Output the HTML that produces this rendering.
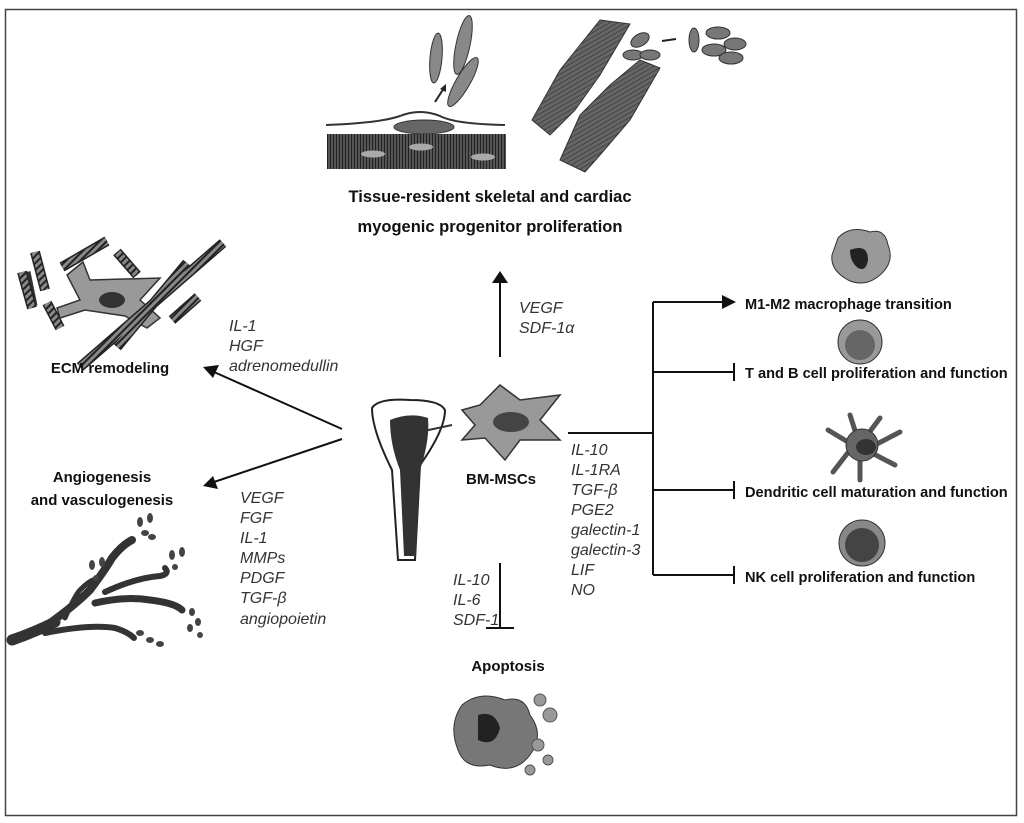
<!DOCTYPE html>
<html><head><meta charset="utf-8"><style>
html,body{margin:0;padding:0;background:#fff}
svg{display:block}
text{font-family:"Liberation Sans",sans-serif}
.b{font-weight:bold;font-size:15px;fill:#111}
.r{font-weight:bold;font-size:14.6px;fill:#111}
.t{font-weight:bold;font-size:16.5px;fill:#111}
.i{font-style:italic;font-size:16px;fill:#333}
</style></head><body>
<svg width="1024" height="823" viewBox="0 0 1024 823">
<defs>
<pattern id="h" width="5" height="5" patternUnits="userSpaceOnUse" patternTransform="rotate(45)"><rect width="5" height="5" fill="#888"/><rect width="2" height="5" fill="#222"/></pattern>
<pattern id="v" width="3" height="3" patternUnits="userSpaceOnUse"><rect width="3" height="3" fill="#555"/><rect width="1" height="3" fill="#222"/></pattern>
<pattern id="c" width="4" height="4" patternUnits="userSpaceOnUse" patternTransform="rotate(-30)"><rect width="4" height="4" fill="#666"/><rect width="4" height="1" fill="#444"/></pattern>
</defs>
<rect x="5.5" y="9.5" width="1011" height="806" fill="none" stroke="#444" stroke-width="1.5"/>

<!-- top illustration -->
<ellipse cx="436" cy="58" rx="6" ry="25" fill="#888" stroke="#333" transform="rotate(5 436 58)"/>
<ellipse cx="463" cy="45" rx="7" ry="30" fill="#888" stroke="#333" transform="rotate(12 463 45)"/>
<ellipse cx="463" cy="82" rx="7" ry="28" fill="#888" stroke="#333" transform="rotate(30 463 82)"/>
<line x1="435" y1="102" x2="444" y2="88" stroke="#222" stroke-width="2"/>
<polygon points="446,84 446,92 440,89" fill="#222"/>
<path d="M326 125 Q380 123 400 116 Q420 108 440 116 Q455 124 505 125" fill="none" stroke="#333" stroke-width="2"/>
<ellipse cx="424" cy="127" rx="30" ry="7" fill="#666" stroke="#333"/>
<rect x="327" y="134" width="179" height="35" fill="url(#v)"/>
<ellipse cx="373" cy="154" rx="12" ry="3.5" fill="#aaa"/><ellipse cx="421" cy="147" rx="12" ry="3.5" fill="#aaa"/><ellipse cx="483" cy="157" rx="12" ry="3.5" fill="#aaa"/>
<polygon points="600,20 630,24 600,75 575,110 550,135 532,120 560,70" fill="url(#c)" stroke="#333"/>
<polygon points="640,60 660,68 630,120 600,155 585,172 560,160 580,115 610,85" fill="url(#c)" stroke="#333"/>
<g fill="#777" stroke="#333"><ellipse cx="640" cy="40" rx="10" ry="6" transform="rotate(-30 640 40)"/><ellipse cx="633" cy="55" rx="10" ry="5"/><ellipse cx="650" cy="55" rx="10" ry="5"/>
<ellipse cx="718" cy="33" rx="12" ry="6"/><ellipse cx="735" cy="44" rx="11" ry="6"/><ellipse cx="714" cy="50" rx="12" ry="6"/><ellipse cx="731" cy="58" rx="12" ry="6"/><ellipse cx="694" cy="40" rx="5" ry="12"/></g>
<line x1="662" y1="41" x2="676" y2="39" stroke="#222" stroke-width="2"/>
<text class="t" x="490" y="202" text-anchor="middle">Tissue-resident skeletal and cardiac</text>
<text class="t" x="490" y="232" text-anchor="middle">myogenic progenitor proliferation</text>

<!-- up arrow -->
<line x1="500" y1="357" x2="500" y2="282" stroke="#111" stroke-width="2"/>
<polygon points="492,283 508,283 500,271" fill="#111"/>
<text class="i" x="519" y="313">VEGF</text>
<text class="i" x="519" y="333">SDF-1α</text>

<!-- ECM -->
<g stroke="url(#h)" stroke-width="8">
<line x1="26" y1="272" x2="33" y2="306" stroke="#333" stroke-width="9"/>
</g>
<g fill="none" stroke-width="8" stroke-linecap="butt">
<g stroke="#222" stroke-width="10">
<line x1="62" y1="267" x2="107" y2="241"/><line x1="117" y1="252" x2="137" y2="275"/>
<line x1="22" y1="272" x2="32" y2="308"/><line x1="35" y1="252" x2="45" y2="290"/>
<line x1="47" y1="303" x2="60" y2="328"/><line x1="172" y1="320" x2="198" y2="297"/>
</g>
</g>
<g stroke="url(#h)" stroke-width="7" fill="none">
<line x1="62" y1="267" x2="107" y2="241"/><line x1="117" y1="252" x2="137" y2="275"/>
<line x1="22" y1="272" x2="32" y2="308"/><line x1="35" y1="252" x2="45" y2="290"/>
<line x1="47" y1="303" x2="60" y2="328"/><line x1="172" y1="320" x2="198" y2="297"/>
</g>
<path d="M67 275 L83 262 L90 280 L160 278 L140 300 L160 318 L147 328 L125 316 L85 310 L60 318 L57 308 L80 300 Z" fill="#999" stroke="#333" stroke-width="1.5"/>
<ellipse cx="112" cy="300" rx="13" ry="8" fill="#333"/>
<g stroke="#222" stroke-width="10"><line x1="80" y1="367" x2="223" y2="243"/><line x1="117" y1="347" x2="187" y2="263"/></g>
<g stroke="url(#h)" stroke-width="7"><line x1="80" y1="367" x2="223" y2="243"/><line x1="117" y1="347" x2="187" y2="263"/></g>
<text class="b" x="110" y="373" text-anchor="middle">ECM remodeling</text>
<text class="i" x="229" y="331">IL-1</text>
<text class="i" x="229" y="351">HGF</text>
<text class="i" x="229" y="371">adrenomedullin</text>

<!-- left arrows -->
<line x1="342" y1="429" x2="214" y2="372" stroke="#111" stroke-width="2"/>
<polygon points="203,367 219,365 213,378" fill="#111"/>
<line x1="342" y1="439" x2="214" y2="482" stroke="#111" stroke-width="2"/>
<polygon points="203,486 213,476 218,489" fill="#111"/>

<text class="b" x="102" y="482" text-anchor="middle">Angiogenesis</text>
<text class="b" x="102" y="505" text-anchor="middle">and vasculogenesis</text>
<text class="i" x="240" y="503">VEGF</text><text class="i" x="240" y="523">FGF</text><text class="i" x="240" y="543">IL-1</text><text class="i" x="240" y="563">MMPs</text><text class="i" x="240" y="583">PDGF</text><text class="i" x="240" y="603">TGF-β</text><text class="i" x="240" y="624">angiopoietin</text>
<!-- tree -->
<g fill="none" stroke="#333" stroke-linecap="round">
<path d="M12 640 Q35 632 55 622" stroke-width="11"/>
<path d="M50 623 Q75 605 90 590 Q105 570 112 558 Q122 545 132 540" stroke-width="8"/>
<path d="M95 603 Q125 596 150 600 Q175 603 182 610" stroke-width="7"/>
<path d="M105 592 Q135 578 160 576 Q170 574 165 568" stroke-width="6"/>
<path d="M45 633 Q90 624 115 628 Q128 632 134 638" stroke-width="6"/>
<path d="M65 618 Q75 595 80 590 Q88 582 93 580" stroke-width="5"/>
</g>
<g fill="#444"><ellipse cx="140" cy="522" rx="3" ry="5"/><ellipse cx="150" cy="518" rx="3" ry="5"/><ellipse cx="145" cy="533" rx="4" ry="3"/><ellipse cx="152" cy="537" rx="4" ry="3"/>
<ellipse cx="92" cy="565" rx="3" ry="5"/><ellipse cx="102" cy="562" rx="3" ry="5"/><ellipse cx="96" cy="578" rx="3" ry="3"/>
<ellipse cx="172" cy="555" rx="3" ry="5"/><ellipse cx="182" cy="552" rx="3" ry="5"/><ellipse cx="175" cy="567" rx="3" ry="3"/>
<ellipse cx="192" cy="612" rx="3" ry="4"/><ellipse cx="198" cy="622" rx="3" ry="4"/><ellipse cx="190" cy="628" rx="3" ry="4"/><ellipse cx="200" cy="635" rx="3" ry="3"/>
<ellipse cx="140" cy="633" rx="4" ry="3"/><ellipse cx="150" cy="640" rx="4" ry="3"/><ellipse cx="160" cy="644" rx="4" ry="3"/></g>

<!-- bone + MSC -->
<path d="M372 408 Q378 398 410 400 Q440 400 445 410 Q445 430 420 465 L415 560 L398 560 L392 470 Q372 430 372 408 Z" fill="#fff" stroke="#222" stroke-width="2"/>
<path d="M390 420 Q410 412 428 418 Q430 440 420 470 L416 556 L404 556 L400 470 Q390 445 390 420 Z" fill="#333"/>
<line x1="410" y1="434" x2="452" y2="425" stroke="#333" stroke-width="2"/>
<path d="M462 410 L480 405 L500 385 L520 400 L560 395 L540 420 L560 440 L520 440 L505 460 L485 438 L462 440 L475 425 Z" fill="#999" stroke="#333" stroke-width="1.5"/>
<ellipse cx="511" cy="422" rx="18" ry="10" fill="#444"/>
<text class="b" x="466" y="484">BM-MSCs</text>

<!-- right branch -->
<g stroke="#111" stroke-width="2" fill="none">
<line x1="568" y1="433" x2="653" y2="433"/>
<line x1="653" y1="302" x2="653" y2="575"/>
<line x1="653" y1="302" x2="725" y2="302"/>
<line x1="653" y1="372" x2="734" y2="372"/><line x1="734" y1="363" x2="734" y2="381"/>
<line x1="653" y1="490" x2="734" y2="490"/><line x1="734" y1="481" x2="734" y2="499"/>
<line x1="653" y1="575" x2="734" y2="575"/><line x1="734" y1="566" x2="734" y2="584"/>
</g>
<polygon points="722,295 736,302 722,309" fill="#111"/>
<text class="i" x="571" y="455">IL-10</text><text class="i" x="571" y="475">IL-1RA</text><text class="i" x="571" y="495">TGF-β</text><text class="i" x="571" y="515">PGE2</text><text class="i" x="571" y="535">galectin-1</text><text class="i" x="571" y="555">galectin-3</text><text class="i" x="571" y="575">LIF</text><text class="i" x="571" y="595">NO</text>

<text class="r" x="745" y="309">M1-M2 macrophage transition</text>
<text class="r" x="745" y="378">T and B cell proliferation and function</text>
<text class="r" x="745" y="497">Dendritic cell  maturation and function</text>
<text class="r" x="745" y="582">NK cell  proliferation and function</text>

<!-- right cells -->
<path d="M838 238 Q850 225 870 232 Q885 228 888 245 Q895 262 880 275 Q865 288 848 280 Q830 270 832 255 Z" fill="#999" stroke="#333"/>
<path d="M850 250 Q868 243 868 260 Q866 272 858 268 Q850 262 850 250Z" fill="#222"/>
<circle cx="860" cy="342" r="22" fill="#999" stroke="#333"/><circle cx="860" cy="345" r="15" fill="#666"/>
<g stroke="#555" stroke-width="5" fill="none" stroke-linecap="round">
<path d="M858 440 L850 415"/><path d="M865 438 L880 418"/><path d="M875 445 L900 432"/><path d="M870 452 L895 465"/><path d="M860 455 L860 480"/><path d="M850 450 L833 472"/><path d="M848 442 L828 430"/></g>
<circle cx="862" cy="445" r="16" fill="#666" stroke="#333"/>
<ellipse cx="866" cy="447" rx="10" ry="8" fill="#333"/>
<circle cx="862" cy="543" r="23" fill="#888" stroke="#333"/><circle cx="862" cy="545" r="17" fill="#444"/>

<!-- bottom -->
<line x1="500" y1="563" x2="500" y2="628" stroke="#111" stroke-width="2"/>
<line x1="486" y1="628" x2="514" y2="628" stroke="#111" stroke-width="2"/>
<text class="i" x="453" y="585">IL-10</text><text class="i" x="453" y="605">IL-6</text><text class="i" x="453" y="625">SDF-1</text>
<text class="b" x="508" y="671" text-anchor="middle">Apoptosis</text>
<path d="M462 705 Q480 690 505 700 Q525 695 530 715 Q545 735 530 755 Q515 775 490 765 Q465 770 458 750 Q448 725 462 705 Z" fill="#777" stroke="#333"/>
<path d="M478 715 Q495 710 500 728 Q495 748 478 740 Z" fill="#222"/>
<g fill="#999" stroke="#555"><circle cx="540" cy="700" r="6"/><circle cx="550" cy="715" r="7"/><circle cx="538" cy="745" r="6"/><circle cx="548" cy="760" r="5"/><circle cx="530" cy="770" r="5"/></g>
</svg>
</body></html>
